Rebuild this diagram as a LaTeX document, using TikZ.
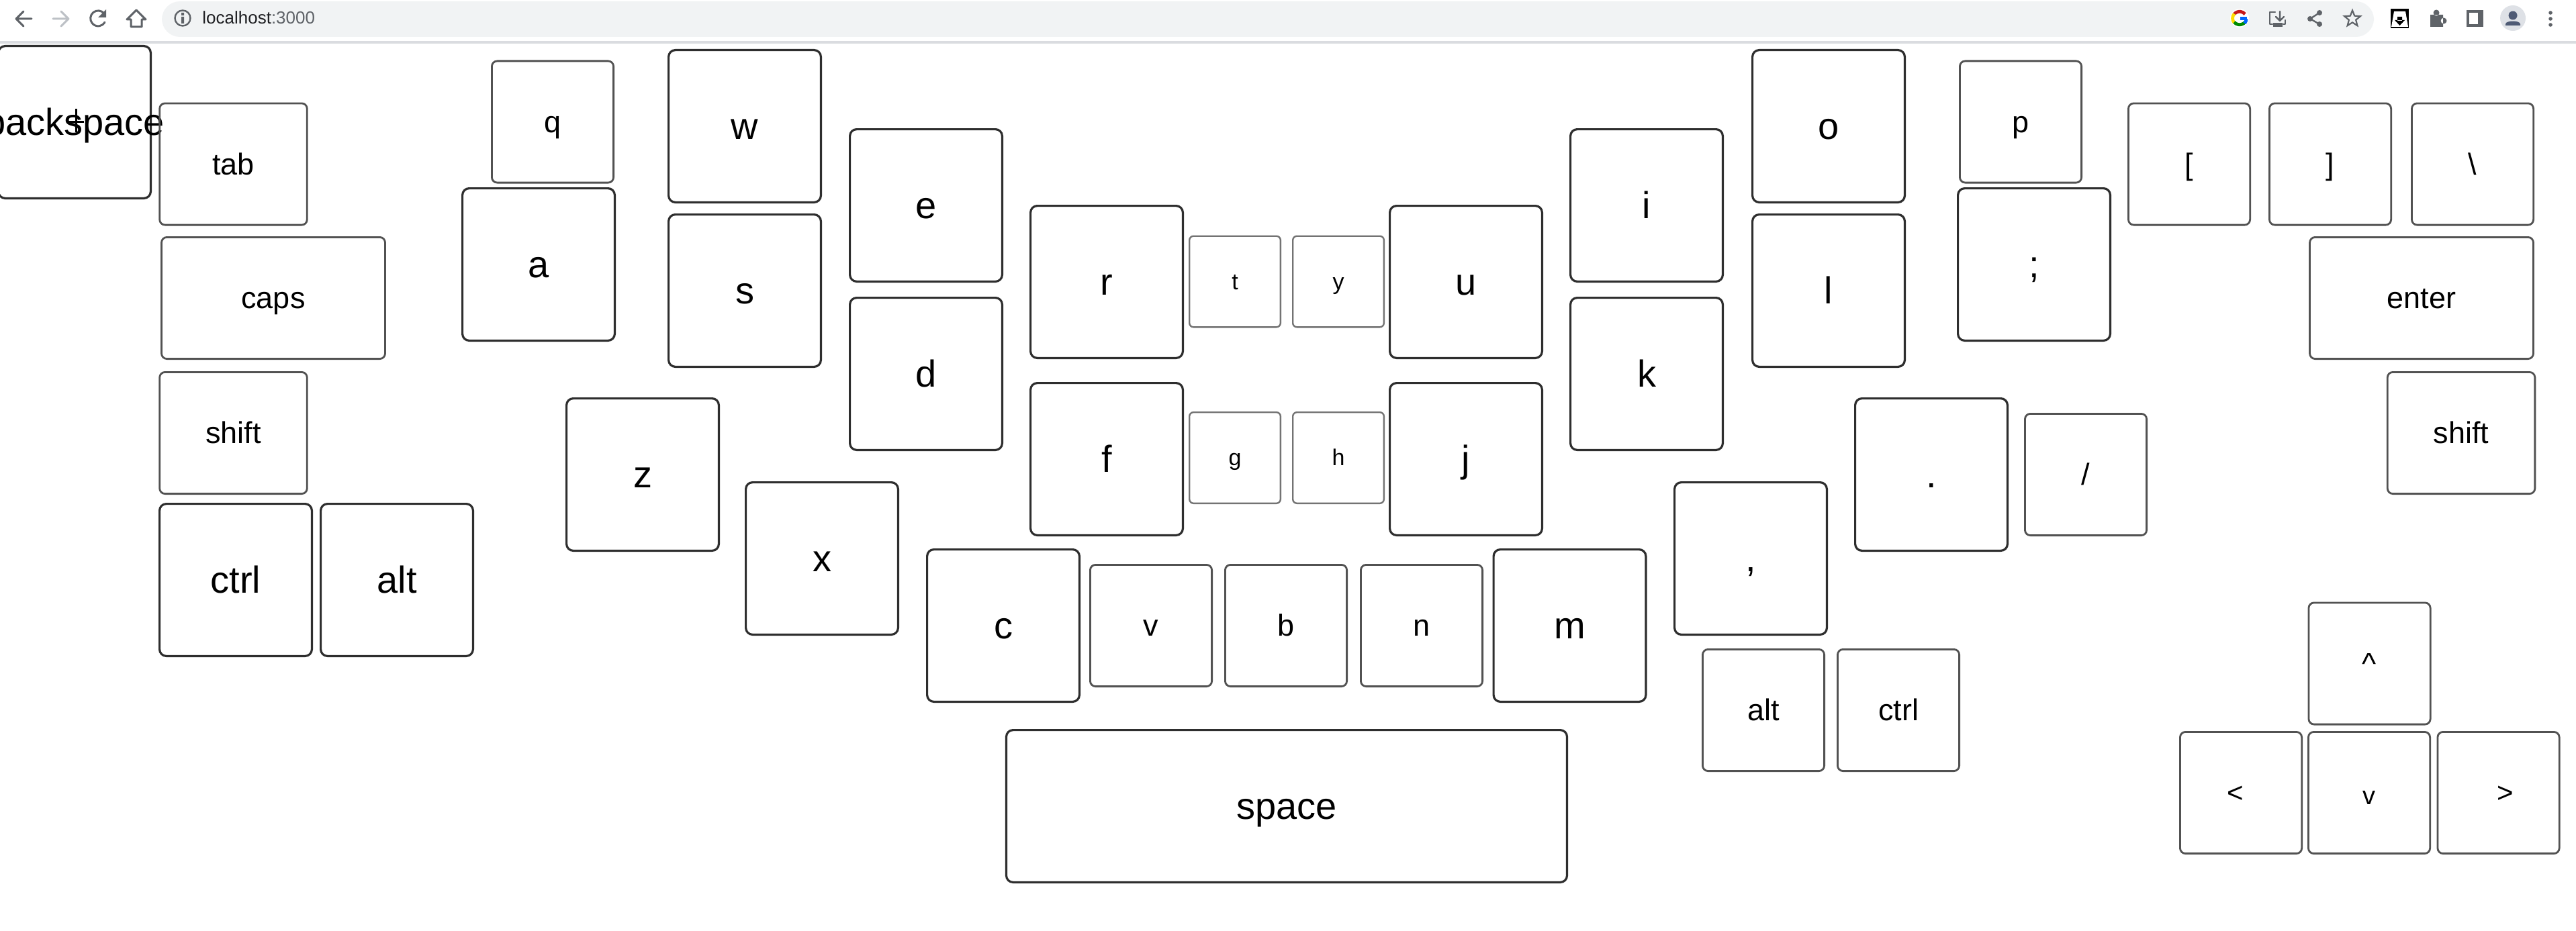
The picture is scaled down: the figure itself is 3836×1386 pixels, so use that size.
\documentclass[tikz,border=0pt]{standalone}
\usepackage{xcolor}
\usepackage{fontspec}
\setmainfont{Liberation Sans}
\usetikzlibrary{shapes.geometric}

\definecolor{iconcol}{HTML}{5F6368}
\definecolor{iconoff}{HTML}{BDC1C6}
\definecolor{barcol}{HTML}{F1F3F4}
\definecolor{rulecol}{HTML}{DADCE0}
\definecolor{urlcol}{HTML}{202124}
\definecolor{avatarbg}{HTML}{DEE1E6}
\definecolor{avatarfg}{HTML}{4F5B75}

\begin{document}
\begin{tikzpicture}[x=0.5pt, y=-0.5pt]

	% Styles
	\tikzset{
		keycap/.style={
			rectangle, draw, inner sep=0pt, outer sep=0pt, align=center
		},
		keybig/.style={
			keycap, draw=black!82, line width=1.6pt, rounded corners=5pt,
			minimum width=113.4pt, minimum height=113.4pt,
			font=\fontsize{28}{34}\selectfont, text height=25.3pt, text depth=5.9pt
		},
		keymid/.style={
			keycap, draw=black!68, line width=1.4pt, rounded corners=4pt,
			minimum width=90.6pt, minimum height=90.6pt,
			font=\fontsize{22.5}{27}\selectfont, text height=20.4pt, text depth=4.8pt
		},
		keysmall/.style={
			keycap, draw=black!55, line width=1.2pt, rounded corners=3pt,
			minimum width=67.8pt, minimum height=67.8pt,
			font=\fontsize{17}{20}\selectfont, text height=15.4pt, text depth=3.6pt
		},
		keyarrow/.style={
			keymid, font=\fontsize{21}{25}\selectfont, text height=19pt, text depth=5pt
		},
		iconline/.style={draw=iconcol, line width=1.5pt, line cap=round, line join=round}
	}

	\useasboundingbox (0,0) rectangle (3836,1386);
	\fill[white] (0,0) rectangle (3836,1386);

	% Browser toolbar
	\fill[barcol, rounded corners=13.5pt] (241,2) rectangle (3535,55);
	\fill[rulecol] (0,61) rectangle (3836,65);
	\node (url) [anchor=base west, inner sep=0pt, font=\fontsize{13}{16}\selectfont, text=urlcol] at (301,36) {localhost\textcolor{iconcol}{:3000}};

	\draw[iconline] (47,28) -- (24,28) (35,17) -- (24,28) -- (35,39);
	\draw[iconline, draw=iconoff] (79,28) -- (102,28) (91,17) -- (102,28) -- (91,39);
	\draw[iconline] (155,20) arc (-40:-330:11.5);
	\fill[iconcol] (158,14) -- (158,26) -- (146,26) -- cycle;
	\draw[iconline] (203,15) -- (189,29) -- (195,29) -- (195,40) -- (211,40) -- (211,29) -- (217,29) -- cycle;
	\draw[draw=iconcol, line width=1.2pt] (272,27) circle (11.5);
	\fill[iconcol] (270,25) rectangle (274,35) (270,19) rectangle (274,23);

	% Google mark
	\fill[white] (3335,27) circle (14);
	\draw[line width=2.4pt, color=red!75!black!90] (3327,21) arc (-140:-40:10.5);
	\draw[line width=2.4pt, color=yellow!80!orange] (3327,34) arc (140:220:10.5);
	\draw[line width=2.4pt, color=green!55!black] (3343,33) arc (40:140:10.5);
	\draw[line width=2.4pt, color=blue!60!cyan] (3345,28) arc (0:40:10.5);
	\fill[blue!60!cyan] (3336,25) rectangle (3346,30);

	% Address bar icons
	\draw[iconline, line width=1.2pt] (3388,18) -- (3380,18) -- (3380,36) -- (3384,36);
	\draw[iconline, line width=1.2pt] (3395,17) -- (3395,30) (3389,25) -- (3395,31) -- (3401,25);
	\draw[iconline, line width=1.2pt] (3403,30) -- (3403,36) -- (3400,36);
	\fill[iconcol] (3385,34) rectangle (3399,40);
	\draw[iconline, line width=1.2pt] (3454,19) -- (3440,28) -- (3454,36);
	\fill[iconcol] (3454,19) circle (4) (3440,28) circle (4) (3454,36) circle (4);
	\node (star) [star, star points=5, star point ratio=2.3, draw=iconcol, line width=1.1pt, minimum size=12.5pt, inner sep=0pt] at (3503,28) {};

	% Extension icons
	\fill[black] (3560,13) rectangle (3587,42);
	\fill[white] (3565,17) -- (3582,17) -- (3586,40) -- (3561,40) -- cycle;
	\fill[black] (3570,25) rectangle (3577,31) (3566,30) -- (3581,30) -- (3573.5,38) -- cycle;
	\fill[iconcol] (3619,22) rectangle (3638,40) (3628,19) circle (4.5) (3639,31) circle (4.5);
	\fill[iconcol] (3673,15) rectangle (3698,40);
	\fill[white] (3677,19) rectangle (3690,36);
	\fill[avatarbg] (3742,27) circle (19);
	\fill[avatarfg] (3742,23) circle (6.5);
	\fill[avatarfg] (3731,38) -- (3731,36) .. controls (3731,30) and (3753,30) .. (3753,36) -- (3753,38) -- cycle;
	\fill[iconcol] (3798,19) circle (2.8) (3798,28) circle (2.8) (3798,37) circle (2.8);

	% Left hand
	\node (backspace) [keybig] at (111,182) {\makebox[0pt][c]{backspace}};
	\draw[black, line width=1.5pt] (113,162) -- (113,197) (101,181) -- (125,181);
	\node (tab) [keymid, minimum width=109.8pt] at (347.5,244.5) {tab};
	\node (caps) [keymid, minimum width=166.5pt] at (407,444) {caps};
	\node (lshift) [keymid, minimum width=109.8pt] at (347.5,645) {shift};
	\node (lctrl) [keybig] at (351,864) {ctrl};
	\node (lalt) [keybig] at (591,864) {alt};
	\node (q) [keymid] at (823,181.5) {q};
	\node (a) [keybig] at (802,394) {a};
	\node (w) [keybig] at (1109,188) {w};
	\node (s) [keybig] at (1109,433) {s};
	\node (e) [keybig] at (1379,306) {e};
	\node (d) [keybig] at (1379,557) {d};
	\node (r) [keybig] at (1648,420) {r};
	\node (f) [keybig] at (1648,684) {f};
	\node (z) [keybig] at (957,707) {z};
	\node (x) [keybig] at (1224,832) {x};
	\node (c) [keybig] at (1494,932) {c};

	% Middle
	\node (t) [keysmall] at (1839,419.5) {t};
	\node (y) [keysmall] at (1993,419.5) {y};
	\node (g) [keysmall] at (1839,682) {g};
	\node (h) [keysmall] at (1993,682) {h};
	\node (v) [keymid] at (1714,932) {v};
	\node (b) [keymid] at (1915,932) {b};
	\node (n) [keymid] at (2117,932) {n};
	\node (space) [keybig, minimum width=417.5pt] at (1916,1201) {space};

	% Right hand
	\node (u) [keybig] at (2183,420) {u};
	\node (j) [keybig] at (2183,684) {j};
	\node (i) [keybig] at (2452,306) {i};
	\node (k) [keybig] at (2452,557) {k};
	\node (o) [keybig] at (2723,188) {o};
	\node (l) [keybig] at (2723,433) {l};
	\node (m) [keybig] at (2337.5,932) {m};
	\node (comma) [keybig] at (2607,832) {,};
	\node (dot) [keybig] at (2876,707) {.};
	\node (semi) [keybig] at (3029,394) {;};
	\node (p) [keymid] at (3009,181.5) {p};
	\node (slash) [keymid] at (3106,707) {/};
	\node (lbrack) [keymid] at (3260,244.5) {[};
	\node (rbrack) [keymid] at (3470,244.5) {]};
	\node (bslash) [keymid] at (3682,244.5) {\textbackslash};
	\node (enter) [keymid, minimum width=166.5pt] at (3606,444) {enter};
	\node (rshift) [keymid, minimum width=109.8pt] at (3665,645) {shift};
	\node (ralt) [keymid] at (2626,1058) {alt};
	\node (rctrl) [keymid] at (2827,1058) {ctrl};

	% Arrows
	\node (up) [keymid] at (3528.5,988.5) {\textasciicircum};
	\node (left) [keyarrow] at (3337,1181) {<\hspace*{8pt}};
	\node (down) [keyarrow, font=\fontsize{19}{23}\selectfont, text height=17pt, text depth=0pt] at (3528,1181) {v};
	\node (right) [keyarrow] at (3720.5,1181) {\hspace*{10pt}>};

\end{tikzpicture}
\end{document}
